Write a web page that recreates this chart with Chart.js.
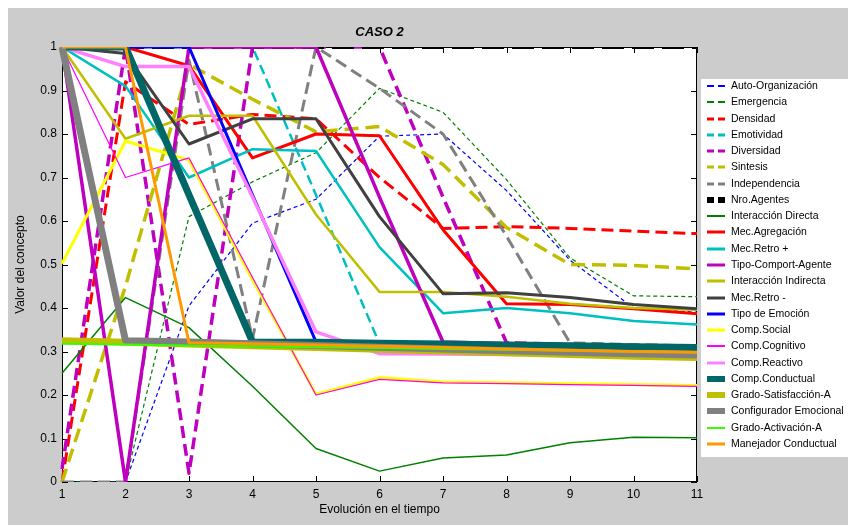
<!DOCTYPE html>
<html>
<head>
<meta charset="utf-8">
<title>CASO 2</title>
<script src="https://cdn.jsdelivr.net/npm/chart.js"></script>
<style>
  body { margin: 0; background: #fff; }
</style>
</head>
<body>
<canvas id="myChart" width="848" height="525"></canvas>
<script>
// time steps (x tick labels)
var steps = ['1', '2', '3', '4', '5', '6', '7', '8', '9', '10', '11'];
var yTicks = [0, 0.1, 0.2, 0.3, 0.4, 0.5, 0.6, 0.7, 0.8, 0.9, 1];

// concept values
var autoOrganizacion     = [0, 0, 0.405, 0.595, 0.65, 0.795, 0.80, 0.67, 0.51, 0.40, 0.39];
var emergencia           = [0, 0, 0.61, 0.69, 0.757, 0.905, 0.85, 0.695, 0.515, 0.428, 0.426];
var densidad             = [0, 0.92, 0.822, 0.845, 0.835, 0.70, 0.583, 0.587, 0.583, 0.577, 0.571];
var emotividad           = [1, 1, 1, 1, 0.66, 0.318, 0.316, 0.314, 0.312, 0.31, 0.308];
var diversidad           = [0.03, 1, 0.02, 1, 1, 1, 0.655, 0.32, 0.316, 0.313, 0.31];
var sintesis             = [0, 0.45, 0.96, 0.88, 0.805, 0.817, 0.73, 0.585, 0.50, 0.498, 0.49];
var independencia        = [0, 0, 0.97, 0.33, 1, 0.905, 0.80, 0.565, 0.32, 0.316, 0.313];
var nroAgentes           = [1, 1, 1, 1, 1, 1, 1, 1, 1, 1, 1];
var interaccionDirecta   = [0.25, 0.424, 0.355, 0.22, 0.077, 0.025, 0.055, 0.062, 0.09, 0.103, 0.102];
var mecAgregacion        = [1, 1, 0.957, 0.745, 0.80, 0.796, 0.58, 0.41, 0.408, 0.398, 0.387];
var mecRetroPos          = [1, 0.91, 0.70, 0.765, 0.761, 0.54, 0.388, 0.40, 0.388, 0.37, 0.362];
var tipoComportAgente    = [1, 0, 1, 1, 1, 0.655, 0.322, 0.318, 0.315, 0.312, 0.31];
var interaccionIndirecta = [1, 0.789, 0.842, 0.842, 0.615, 0.437, 0.437, 0.426, 0.41, 0.40, 0.396];
var mecRetroNeg          = [1, 0.985, 0.777, 0.835, 0.835, 0.61, 0.433, 0.435, 0.424, 0.408, 0.398];
var tipoEmocion          = [1, 1, 1, 0.66, 0.322, 0.32, 0.318, 0.316, 0.314, 0.312, 0.31];
var compSocial           = [0.502, 0.784, 0.74, 0.465, 0.202, 0.24, 0.23, 0.228, 0.226, 0.224, 0.222];
var compCognitivo        = [1, 0.70, 0.745, 0.47, 0.20, 0.236, 0.228, 0.226, 0.224, 0.222, 0.22];
var compReactivo         = [1, 0.955, 0.955, 0.655, 0.345, 0.295, 0.294, 0.293, 0.292, 0.291, 0.29];
var compConductual       = [1, 1, 0.66, 0.322, 0.321, 0.319, 0.317, 0.315, 0.313, 0.311, 0.309];
var gradoSatisfaccion    = [0.325, 0.321, 0.317, 0.313, 0.309, 0.305, 0.301, 0.297, 0.293, 0.289, 0.286];
var configuradorEmocional = [1, 0.325, 0.322, 0.318, 0.314, 0.31, 0.306, 0.302, 0.298, 0.295, 0.292];
var gradoActivacion      = [0.318, 0.316, 0.314, 0.312, 0.31, 0.308, 0.306, 0.304, 0.302, 0.3, 0.298];
var manejadorConductual  = [1, 1, 0.32, 0.318, 0.315, 0.312, 0.309, 0.306, 0.303, 0.3, 0.298];

var FONT = '"Liberation Sans", Arial, sans-serif';

// label, data, color, width, dash, legend thickness
var series = [
    ['Auto-Organización', autoOrganizacion, '#0000ff', 1.2, [4, 3], 2],
    ['Emergencia', emergencia, '#008000', 1.2, [4, 3], 2],
    ['Densidad', densidad, '#ff0000', 3, [12, 6], 3],
    ['Emotividad', emotividad, '#00bfbf', 2.5, [10, 5], 3],
    ['Diversidad', diversidad, '#bf00bf', 3.5, [12, 6], 3],
    ['Sintesis', sintesis, '#bfbf00', 3.5, [14, 7], 3],
    ['Independencia', independencia, '#808080', 3, [12, 6], 3],
    ['Nro.Agentes', nroAgentes, '#000000', 4, [22, 8], 6],
    ['Interacción Directa', interaccionDirecta, '#008000', 1.5, [], 2],
    ['Mec.Agregación', mecAgregacion, '#ff0000', 3, [], 3],
    ['Mec.Retro +', mecRetroPos, '#00bfbf', 2.5, [], 3],
    ['Tipo-Comport-Agente', tipoComportAgente, '#bf00bf', 3.5, [], 3],
    ['Interacción Indirecta', interaccionIndirecta, '#bfbf00', 2.5, [], 3],
    ['Mec.Retro -', mecRetroNeg, '#404040', 3, [], 3],
    ['Tipo de Emoción', tipoEmocion, '#0000ff', 3, [], 3],
    ['Comp.Social', compSocial, '#ffff00', 3, [], 3],
    ['Comp.Cognitivo', compCognitivo, '#ff00ff', 1.2, [], 2],
    ['Comp.Reactivo', compReactivo, '#ff80ff', 3.5, [], 3],
    ['Comp.Conductual', compConductual, '#006666', 7, [], 6],
    ['Grado-Satisfacción-A', gradoSatisfaccion, '#bfbf00', 7, [], 6],
    ['Configurador Emocional', configuradorEmocional, '#808080', 7, [], 6],
    ['Grado-Activación-A', gradoActivacion, '#33ff00', 2, [], 2],
    ['Manejador Conductual', manejadorConductual, '#ff9900', 3, [], 3]
];

var datasets = series.map(function (s, i) {
    return {
        label: s[0],
        data: s[1],
        borderColor: s[2],
        backgroundColor: s[2],
        borderWidth: s[3],
        borderDash: s[4],
        legendWidth: s[5],
        borderJoinStyle: 'round',
        fill: false,
        pointRadius: 0,
        tension: 0,
        order: series.length - i   // later series drawn on top, like matlab
    };
});

// grey figure, white axes box, inward ticks, title
var framePlugin = {
    id: 'frame',
    beforeDraw: function (chart) {
        var c = chart.ctx, a = chart.chartArea;
        c.save();
        c.fillStyle = '#ffffff';
        c.fillRect(0, 0, chart.width, chart.height);
        c.fillStyle = '#cccccc';
        c.fillRect(8, 8, chart.width - 8, chart.height - 8);
        c.fillStyle = '#ffffff';
        c.fillRect(a.left, a.top, a.right - a.left, a.bottom - a.top);
        c.restore();
    },
    beforeDatasetsDraw: function (chart) {
        var c = chart.ctx, a = chart.chartArea;
        var xs = chart.scales.x, ys = chart.scales.y;
        c.save();
        c.strokeStyle = '#000';
        c.lineWidth = 1;
        c.strokeRect(a.left + 0.5, a.top + 0.5, a.right - a.left - 1, a.bottom - a.top - 1);
        c.beginPath();
        yTicks.forEach(function (v) {
            var y = Math.round(ys.getPixelForValue(v)) + 0.5;
            c.moveTo(a.left, y); c.lineTo(a.left + 6, y);
            c.moveTo(a.right, y); c.lineTo(a.right - 6, y);
        });
        steps.forEach(function (s, i) {
            var x = Math.round(xs.getPixelForValue(i)) + 0.5;
            c.moveTo(x, a.bottom); c.lineTo(x, a.bottom - 6);
            c.moveTo(x, a.top); c.lineTo(x, a.top + 6);
        });
        c.stroke();
        c.restore();
    },
    afterDraw: function (chart) {
        var c = chart.ctx, a = chart.chartArea;
        c.save();
        c.fillStyle = '#000';
        c.font = 'italic bold 13px ' + FONT;
        c.textAlign = 'center';
        c.textBaseline = 'middle';
        c.fillText('CASO 2', (a.left + a.right) / 2, 32);
        c.restore();
    }
};

// matlab style legend box to the right
var legendPlugin = {
    id: 'matlabLegend',
    afterDraw: function (chart) {
        var c = chart.ctx;
        c.save();
        c.fillStyle = '#ffffff';
        c.fillRect(701, 79, 147, 378);
        chart.data.datasets.forEach(function (ds, i) {
            var y = Math.round(86 + i * 16.27);
            c.strokeStyle = ds.borderColor;
            c.lineWidth = ds.legendWidth;
            c.setLineDash(ds.borderDash.length ? [7, 4] : []);
            c.beginPath();
            c.moveTo(707, y);
            c.lineTo(725, y);
            c.stroke();
            c.setLineDash([]);
            c.fillStyle = '#000';
            c.font = '10.5px ' + FONT;
            c.textBaseline = 'middle';
            c.fillText(ds.label, 731, y);
        });
        c.restore();
    }
};

var ctx = document.getElementById('myChart').getContext('2d');
var chart = new Chart(ctx, {
    type: 'line',
    data: { labels: steps, datasets: datasets },
    options: {
        responsive: false,
        animation: false,
        layout: { padding: { top: 47, right: 151, left: 0, bottom: 0 } },
        plugins: {
            legend: { display: false },
            tooltip: { enabled: false },
            title: { display: false }
        },
        scales: {
            x: {
                offset: false,
                grid: { display: false, drawTicks: false },
                border: { display: false },
                ticks: { padding: 5, color: '#000', autoSkip: false, maxRotation: 0, font: { family: FONT, size: 12 } },
                title: { display: true, text: 'Evolución en el tiempo', color: '#000', padding: { top: 0, bottom: 8 }, font: { family: FONT, size: 12 } },
                afterFit: function (s) { s.height = 43; }
            },
            y: {
                min: 0,
                max: 1,
                grid: { display: false, drawTicks: false },
                border: { display: false },
                ticks: {
                    stepSize: 0.1, padding: 5, color: '#000', font: { family: FONT, size: 12 },
                    callback: function (v) { return String(+v.toFixed(1)); }
                },
                title: { display: true, text: 'Valor del concepto', color: '#000', padding: { top: 13, bottom: 0 }, font: { family: FONT, size: 12 } },
                afterFit: function (s) { s.width = 62; }
            }
        }
    },
    plugins: [framePlugin, legendPlugin]
});
</script>
</body>
</html>
